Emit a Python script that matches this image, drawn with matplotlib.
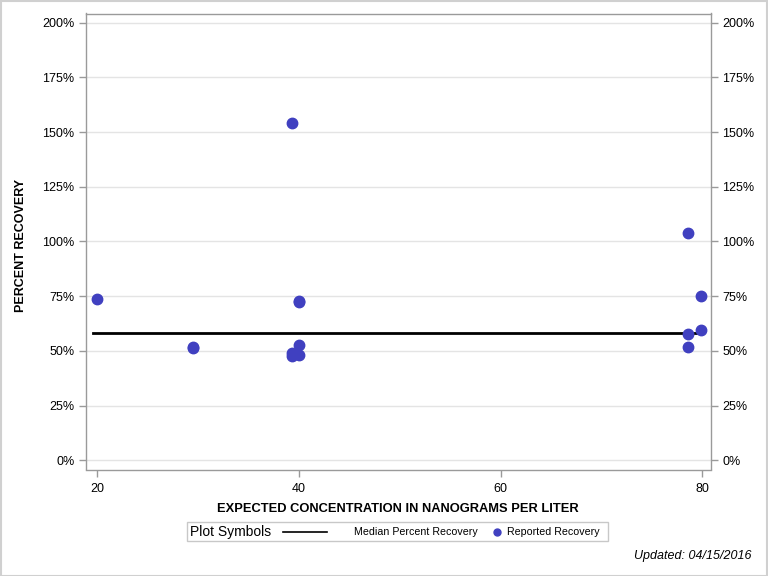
import matplotlib
matplotlib.use("Agg")
import matplotlib.pyplot as plt
from matplotlib.patches import Rectangle
from matplotlib.lines import Line2D

plt.rcParams['font.family'] = ['Liberation Sans', 'DejaVu Sans']

# Data
expected_conc = [20.0, 29.5, 29.5, 39.35, 39.35, 39.35, 40.0, 40.0, 40.0, 40.0,
                 78.6, 78.6, 78.6, 79.9, 79.9]
percent_recovery = [73.8, 51.2, 51.8, 154.0, 48.9, 47.6, 72.4, 73.0, 52.8, 48.3,
                    103.9, 57.8, 51.9, 75.1, 59.7]
median_recovery = 58.0
median_x = [19.6, 80.0]
x_ticks = [20, 40, 60, 80]
y_ticks = [0, 25, 50, 75, 100, 125, 150, 175, 200]
y_tick_labels = [f"{v}%" for v in y_ticks]

W, H = 768, 576
fig = plt.figure(figsize=(W / 100, H / 100), dpi=100)
fig.patch.set_facecolor('white')

left, right, top, bottom = 85.5, 711, 13.5, 469.5
ax = fig.add_axes([left / W, 1 - bottom / H, (right - left) / W, (bottom - top) / H])

point_color = '#4040C0'
spine_color = '#9A9A9A'
grid_color = '#E4E4E4'

ln, = ax.plot(median_x, [median_recovery, median_recovery], color='black', lw=2.0, zorder=3,
              label='Median Percent Recovery')
sc, = ax.plot(expected_conc, percent_recovery, linestyle='none', marker='o', ms=7.5,
              color=point_color, mec=point_color, zorder=4, label='Reported Recovery')

ax.set_xlim(18.83, 80.86)
ax.set_ylim(-4.2, 204.2)
ax.set_xticks(x_ticks)
ax.set_xticklabels([str(v) for v in x_ticks])
ax.set_yticks(y_ticks)
ax.set_yticklabels(y_tick_labels)
ax.grid(axis='y', color=grid_color, lw=1)
ax.set_axisbelow(True)

for s in ax.spines.values():
    s.set_color(spine_color)
    s.set_linewidth(1)

ax.tick_params(axis='both', colors=spine_color, labelcolor='black', labelsize=9,
               length=5, width=1, direction='out')
ax.tick_params(axis='y', right=True, labelright=True, pad=3)
ax.tick_params(axis='x', pad=5)

ax.set_xlabel('EXPECTED CONCENTRATION IN NANOGRAMS PER LITER', fontsize=9.3,
              fontweight='bold', va='center')
ax.xaxis.set_label_coords(0.5, (bottom - 509) / (bottom - top))
ax.set_ylabel('PERCENT RECOVERY', fontsize=9, fontweight='bold', va='center')
ax.yaxis.set_label_coords((21 - left) / (right - left), (bottom - 245) / (bottom - top))

# Legend box (drawn manually)
ly = 1 - 532 / H
fig.add_artist(Rectangle((187 / W, 1 - 541 / H), (608 - 187) / W, (541 - 522) / H,
                         transform=fig.transFigure, fill=False, ec='#C8C8C8', lw=1))
fig.text(190 / W, ly, 'Plot Symbols', fontsize=10, va='center', ha='left')
fig.add_artist(Line2D([283 / W, 327 / W], [ly, ly], transform=fig.transFigure,
                      color=ln.get_color(), lw=1.2))
fig.text(354 / W, ly, ln.get_label(), fontsize=7.7, va='center', ha='left')
fig.add_artist(Line2D([497 / W], [ly], transform=fig.transFigure, linestyle='none',
                      marker='o', ms=5, color=point_color, mec=point_color))
fig.text(507 / W, ly, sc.get_label(), fontsize=7.7, va='center', ha='left')

fig.text(752 / W, 1 - 556 / H, 'Updated: 04/15/2016', fontsize=9, style='italic',
         ha='right', va='center')

# Outer border
fig.add_artist(Rectangle((0.5 / W, 0.5 / H), (W - 1.5) / W, (H - 1.5) / H,
                         transform=fig.transFigure, fill=False, ec='#D0D0D0', lw=1.5))

fig.savefig('out.png', dpi=100)
